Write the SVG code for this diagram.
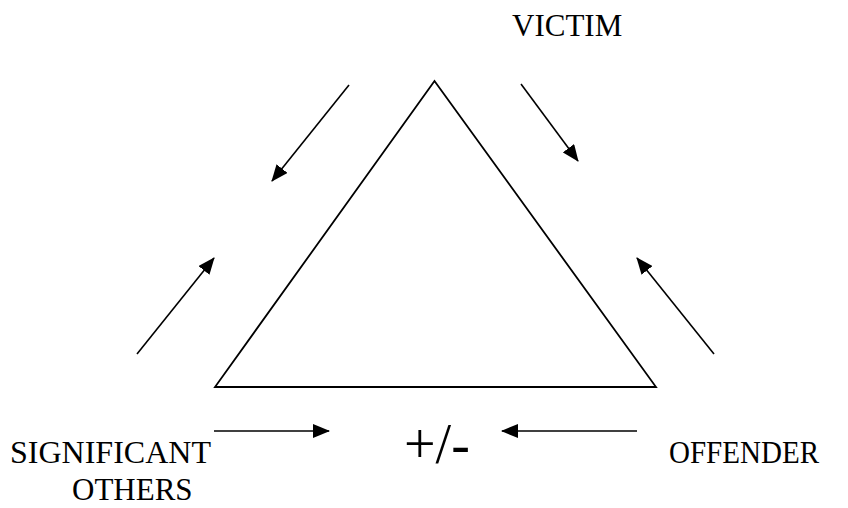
<svg xmlns="http://www.w3.org/2000/svg" width="848" height="508" viewBox="0 0 848 508">
<style>
.lbl{font-family:"Liberation Serif","Times New Roman",serif;font-size:31px;fill:#000}
.pm{font-family:"Liberation Serif","Times New Roman",serif;font-size:56px;fill:#000}
.arr{stroke:#000;stroke-width:1.6;fill:none;marker-end:url(#ah)}
.tri{stroke:#000;stroke-width:1.8;fill:none;stroke-linejoin:miter}
</style>
<defs>
<marker id="ah" markerUnits="userSpaceOnUse" markerWidth="17" markerHeight="14" refX="16" refY="7" orient="auto">
<path d="M0,0 L17,7 L0,14 z" fill="#000"/>
</marker>
</defs>
<rect width="848" height="508" fill="#fff"/>
<g id="triangle">
<polygon class="tri" points="434.5,81 215,387 656,387"/>
</g>
<g id="victim"><text class="lbl" x="512" y="36">VICTIM</text></g>
<g id="significant-others">
<text class="lbl" x="10" y="463" textLength="201" lengthAdjust="spacingAndGlyphs">SIGNIFICANT</text>
<text class="lbl" x="72" y="500">OTHERS</text>
</g>
<g id="offender"><text class="lbl" x="669" y="463" textLength="150" lengthAdjust="spacingAndGlyphs">OFFENDER</text></g>
<g id="plusminus"><text class="pm" x="404" y="463">+/-</text></g>
<g id="connectors">
<line class="arr" x1="349" y1="85" x2="272" y2="181"/>
<line class="arr" x1="521" y1="84" x2="578" y2="161"/>
<line class="arr" x1="137" y1="354" x2="214" y2="258"/>
<line class="arr" x1="714" y1="354" x2="637" y2="258"/>
<line class="arr" x1="214" y1="431" x2="329" y2="431"/>
<line class="arr" x1="637" y1="431" x2="502" y2="431"/>
</g>
</svg>
